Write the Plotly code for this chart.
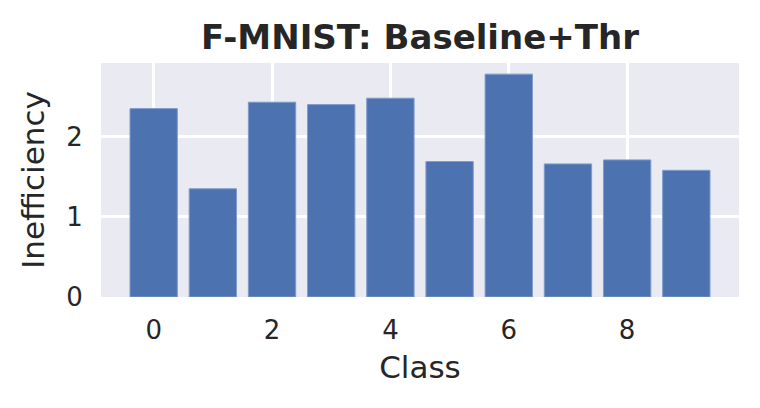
import plotly.graph_objs as go

# per-class inefficiency
classes = [0, 1, 2, 3, 4, 5, 6, 7, 8, 9]
inefficiency = [2.35, 1.35, 2.43, 2.40, 2.48, 1.69, 2.78, 1.66, 1.71, 1.58]

title = "F-MNIST: Baseline+Thr"
font = "DejaVu Sans"
text_color = "#262626"

fig = go.Figure()
fig.add_trace(
    go.Bar(
        x=classes,
        y=inefficiency,
        width=0.8,
        marker=dict(color="#4C72B0", line=dict(color="#7F9CCB", width=1)),
        showlegend=False,
    )
)

ymax = max(inefficiency) * 1.05

# page body has an 8px margin, so the plot box is shifted by that much
fig.update_layout(
    width=760,
    height=408,
    margin=dict(l=93, r=29, t=55, b=119),
    paper_bgcolor="white",
    plot_bgcolor="#EAEAF2",
    font=dict(family=font, color=text_color),
    title=dict(
        text="<b>" + title + "</b>",
        x=0.5,
        xref="paper",
        xanchor="center",
        y=1,
        yref="paper",
        yanchor="bottom",
        pad=dict(b=14),
        font=dict(size=34, family=font, color=text_color),
    ),
)

fig.update_xaxes(
    range=[-0.89, 9.89],
    tickvals=[0, 2, 4, 6, 8],
    tickfont=dict(size=26),
    showgrid=True,
    gridcolor="white",
    gridwidth=2.5,
    zeroline=False,
    ticks="outside",
    ticklen=10,
    tickcolor="rgba(0,0,0,0)",
    title=dict(text="Class", font=dict(size=31), standoff=12),
)
fig.update_yaxes(
    range=[0, ymax],
    tickvals=[0, 1, 2],
    tickfont=dict(size=26),
    showgrid=True,
    gridcolor="white",
    gridwidth=2.5,
    zeroline=False,
    ticks="outside",
    ticklen=12,
    tickcolor="rgba(0,0,0,0)",
    title=dict(text="Inefficiency", font=dict(size=31), standoff=12),
)

fig.write_html("out.html")
